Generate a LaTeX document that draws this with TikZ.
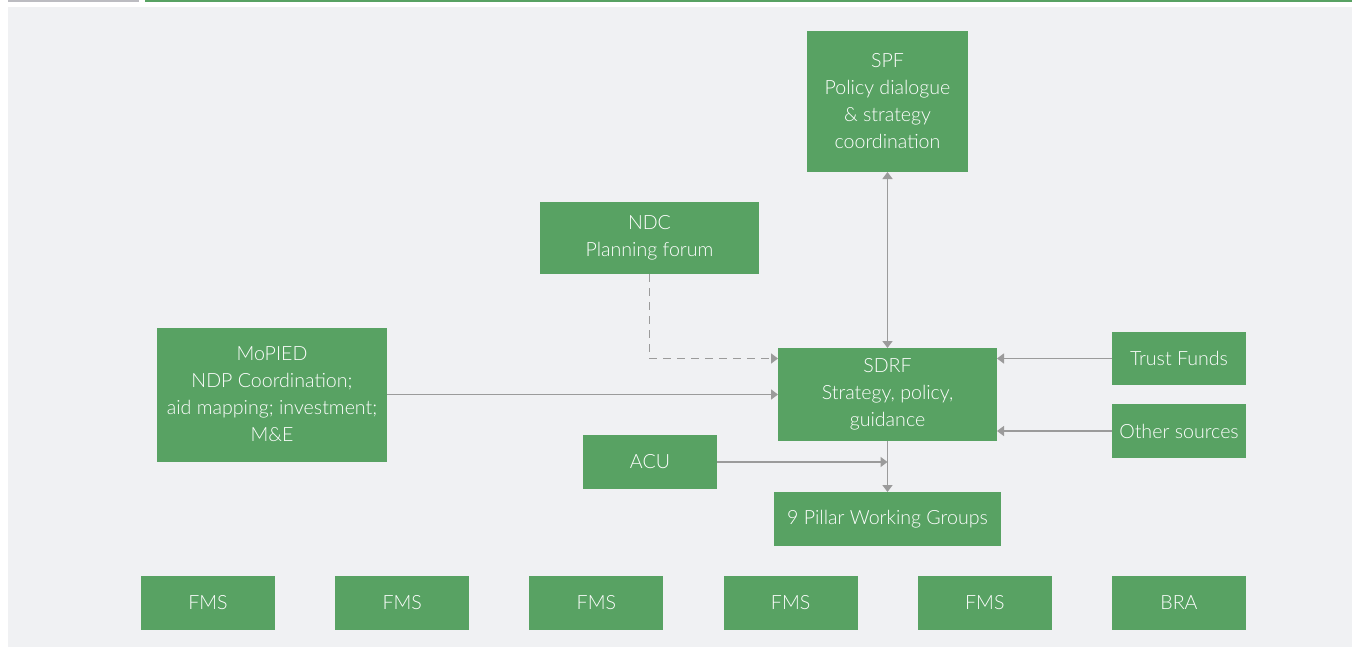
\documentclass[tikz,border=0pt]{standalone}
\usepackage{fontspec}
\setmainfont{Lato Light}
\usetikzlibrary{positioning,arrows.meta}

\definecolor{boxgreen}{HTML}{58A263}
\definecolor{panelgray}{HTML}{F0F1F3}
\definecolor{linegray}{HTML}{9B9B9B}
\definecolor{bargray}{HTML}{BCBCC1}

\begin{document}
\begin{tikzpicture}[
        x=0.5pt, y=-0.5pt,
        box/.style={rectangle, fill=boxgreen, text=white, align=center, inner sep=0pt, outer sep=0pt, font=\fontsize{9.8}{13.5}\selectfont},
        smallbox/.style={box, minimum width=67pt, minimum height=27pt},
        arrow/.style={-{Triangle[length=3.5pt,width=5pt]}, linegray, line width=0.75pt},
        dasharrow/.style={arrow, dash pattern=on 4pt off 3pt}
    ]

    % Panel and top bars
    \useasboundingbox (0,0) rectangle (1353,647);
    \fill[panelgray] (8,7) rectangle (1352,647);
    \fill[bargray] (8,0) rectangle (139,2.5);
    \fill[boxgreen] (145,0) rectangle (1352,2.5);

    % Central body
    \node[box, minimum width=109.5pt, minimum height=46.5pt] (sdrf) at (887.5,394.5) {SDRF\\Strategy, policy,\\guidance};
    \node[box, above=88pt of sdrf, minimum width=80.5pt, minimum height=70.5pt] (spf) {SPF\\Policy dialogue\\\& strategy\\coordination};
    \node[box, minimum width=109.5pt, minimum height=36pt] (ndc) at (649.5,238) {NDC\\Planning forum};
    \node[box, left=195.5pt of sdrf, minimum width=115pt, minimum height=67pt] (mopied) {MoPIED\\NDP Coordination;\\aid mapping; investment;\\M\&E};
    \node[box, below=25.5pt of sdrf, minimum width=113.5pt, minimum height=27pt] (pillars) {9 Pillar Working Groups};
    \node[smallbox] (acu) at (650,462) {ACU};

    % Funding sources (RIGHT)
    \node[smallbox, minimum height=26.5pt] (trust) at (1179,358.5) {Trust Funds};
    \node[smallbox, below=9.5pt of trust] (other) {Other sources};

    % Bottom row
    \node[smallbox] (fms1) at (208,603) {FMS};
    \node[smallbox, right=30.1pt of fms1] (fms2) {FMS};
    \node[smallbox, right=30.1pt of fms2] (fms3) {FMS};
    \node[smallbox, right=30.1pt of fms3] (fms4) {FMS};
    \node[smallbox, right=30.1pt of fms4] (fms5) {FMS};
    \node[smallbox, right=30.1pt of fms5] (bra) {BRA};

    % Connectors
    \draw[arrow, {Triangle[length=3.5pt,width=5pt]}-{Triangle[length=3.5pt,width=5pt]}] (spf.south) -- (sdrf.north);
    \draw[dasharrow] (ndc.south) |- (sdrf.west |- trust.west);
    \draw[arrow] (mopied.east) -- (mopied.east -| sdrf.west);
    \draw[arrow] (trust.west) -- (trust.west -| sdrf.east);
    \draw[arrow] (other.west) -- (other.west -| sdrf.east);
    \draw[arrow] (acu.east) -- (acu.east -| sdrf.south);
    \draw[arrow] (sdrf.south) -- (pillars.north);

\end{tikzpicture}
\end{document}
